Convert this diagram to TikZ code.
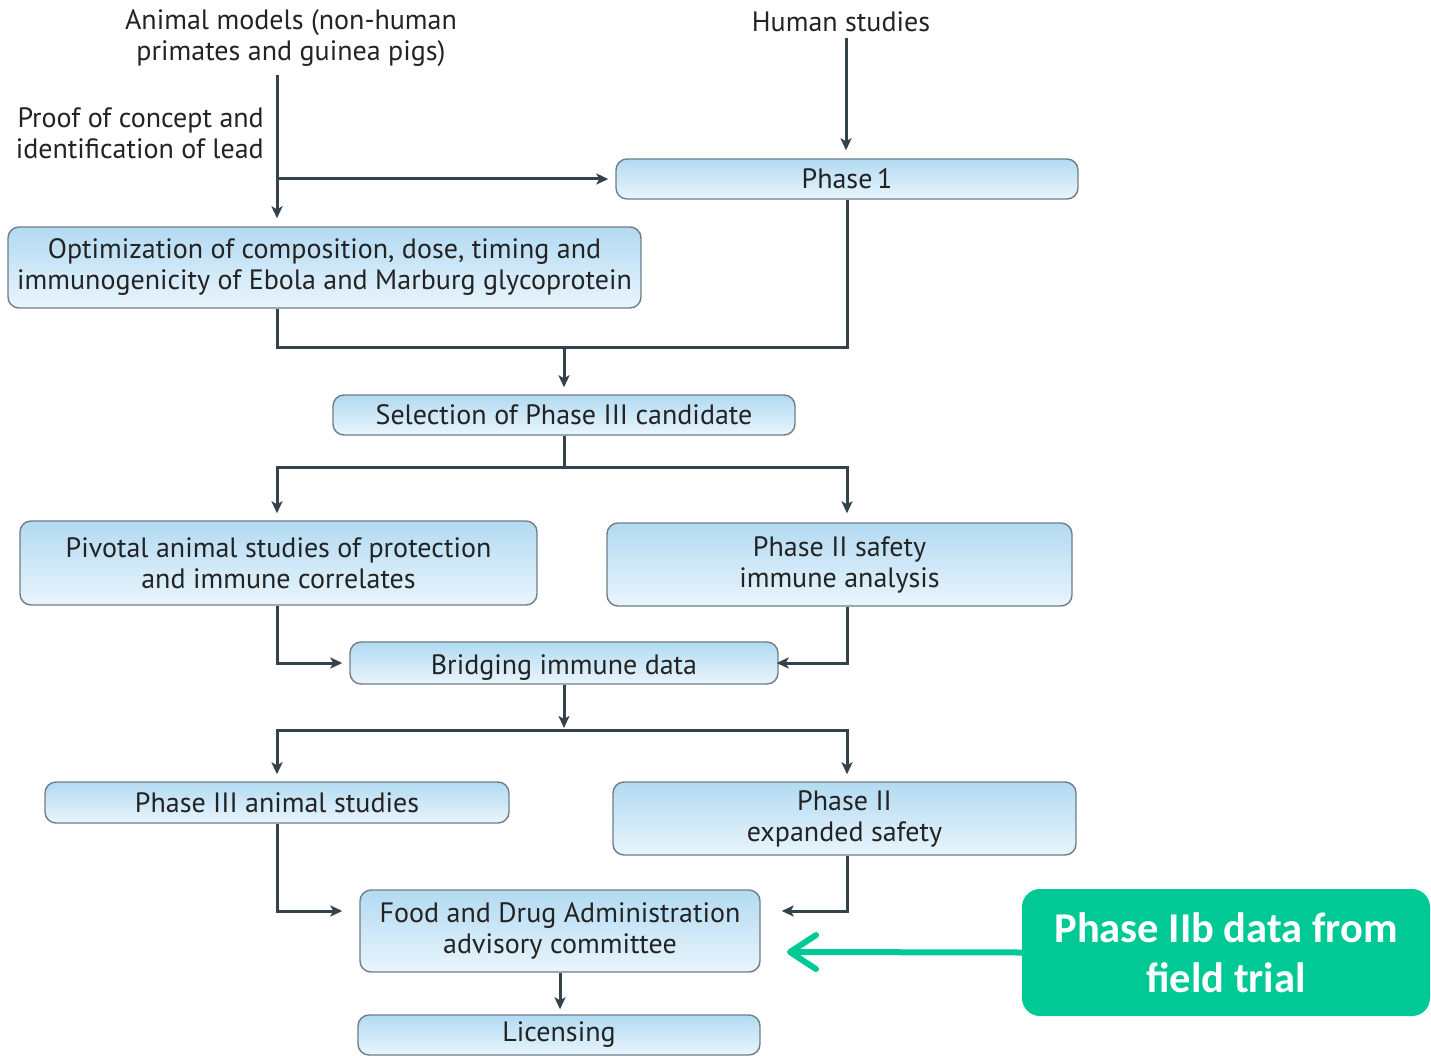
\documentclass[tikz,border=0pt]{standalone}
\usepackage{fontspec}
\setmainfont{PT Sans}
\newfontfamily\greenfont{Carlito}
\usetikzlibrary{arrows.meta}
\definecolor{boxtop}{RGB}{178,218,242}
\definecolor{boxbot}{RGB}{233,245,252}
\definecolor{boxline}{RGB}{110,125,135}
\definecolor{lnc}{RGB}{52,66,74}
\definecolor{txt}{RGB}{35,35,35}
\definecolor{grn}{RGB}{0,201,150}
\newcommand\mysz{\fontsize{28}{31}\selectfont}
\tikzset{
  box/.style={draw=boxline, line width=1.4pt, rounded corners=11pt,
    top color=boxtop, bottom color=boxbot, align=center, inner sep=0pt,
    font=\mysz, text=txt},
  lbl/.style={align=center, inner sep=0pt, font=\mysz, text=txt},
  conn/.style={draw=lnc, line width=3pt},
  arr/.style={conn, -{Stealth[length=12pt,width=11pt,inset=3pt]}},
  garr/.style={draw=grn, line width=6pt, line cap=round,
    -{Straight Barb[length=26pt,width=34pt,line cap=round,line join=round]}},
}
\begin{document}
\begin{tikzpicture}[x=1pt,y=-1pt]
\useasboundingbox (0,0) rectangle (1431,1056);
% labels
\node[lbl] (animal) at (291,38) {Animal models (non-human\\primates and guinea pigs)};
\node[lbl] (human) at (841,22) {Human studies};
\node[lbl, align=right, anchor=east] (proof) at (264,133) {Proof of concept and\\identification of lead};
% boxes
\node[box, minimum width=462pt, minimum height=40pt] (phase1) at (847,179) {Phase\,1};
\node[box, minimum width=633pt, minimum height=81pt] (optim) at (324.5,267.5) {Optimization of composition, dose, timing and\\immunogenicity of Ebola and Marburg glycoprotein};
\node[box, minimum width=462pt, minimum height=40pt] (select) at (564,415) {Selection of Phase III candidate};
\node[box, minimum width=517pt, minimum height=84pt] (pivotal) at (278.5,563) {Pivotal animal studies of protection\\and immune correlates};
\node[box, minimum width=465pt, minimum height=83pt] (p2safe) at (839.5,564.5) {Phase II safety\\immune analysis};
\node[box, minimum width=428pt, minimum height=42pt, text height=22pt, text depth=0pt] (bridge) at (564,663) {Bridging immune data};
\node[box, minimum width=464pt, minimum height=41pt] (p3anim) at (277,802.5) {Phase III animal studies};
\node[box, minimum width=463pt, minimum height=73pt] (p2exp) at (844.5,818.5) {Phase II\\expanded safety};
\node[box, minimum width=400pt, minimum height=82pt] (fda) at (560,931) {Food and Drug Administration\\advisory committee};
\node[box, minimum width=402pt, minimum height=40pt] (lic) at (559,1035) {Licensing};
\node[fill=grn, rounded corners=18pt, minimum width=408pt, minimum height=127pt, inner sep=0pt,
  align=center, text=white, font=\greenfont\bfseries\fontsize{42.5}{50}\selectfont] (green) at (1226,952.5) {Phase IIb data from\\field trial};
% helper coordinates
\coordinate (a1) at (277,75);
\coordinate (h1) at (846,38);
\coordinate (cr) at (847,0);
\coordinate (m1) at (564,347);
\coordinate (m2) at (564,467);
\coordinate (m3) at (564,730);
\coordinate (gtip) at (787,952);
% connectors
\draw[arr, shorten >=8pt] (a1) -- (a1 |- optim.north);
\draw[arr, shorten >=7pt] (a1 |- phase1.west) -- (phase1.west);
\draw[arr, shorten >=8pt] (h1) -- (h1 |- phase1.north);
\draw[conn] (a1 |- optim.south) |- (m1) -| (phase1.south);
\draw[arr, shorten >=7pt] (m1) -- (select.north);
\draw[conn] (select.south) -- (m2);
\draw[arr, shorten >=7pt] (m2) -| (a1 |- pivotal.north);
\draw[arr, shorten >=9pt] (m2) -| (cr |- p2safe.north);
\draw[arr, shorten >=7pt] (a1 |- pivotal.south) |- (bridge.west);
\draw[arr, shorten >=-2pt] (cr |- p2safe.south) |- (bridge.east);
\draw[arr, shorten >=2pt] (bridge.south) -- (m3);
\draw[arr, shorten >=7pt] (m3) -| (a1 |- p3anim.north);
\draw[arr, shorten >=7pt] (m3) -| (cr |- p2exp.north);
\draw[arr, shorten >=17pt] (a1 |- p3anim.south) |- ([yshift=20pt]fda.west);
\draw[arr, shorten >=21pt] (cr |- p2exp.south) |- ([yshift=20pt]fda.east);
\draw[arr, shorten >=5pt] (fda.south) -- (fda.south |- lic.north);
\draw[garr] (green.west) -- (gtip);
\end{tikzpicture}
\end{document}
